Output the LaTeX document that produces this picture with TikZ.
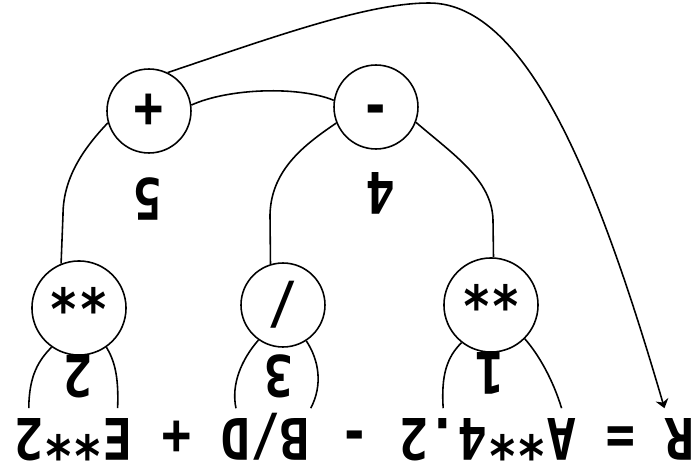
\documentclass[tikz,border=0pt]{standalone}
\usepackage{fontspec}
\usetikzlibrary{arrows.meta}
\newfontfamily\exprfont[FakeStretch=0.855]{DejaVu Sans Mono}
\newcommand{\codesize}{\exprfont\bfseries\fontsize{32.6pt}{36pt}\selectfont}

\begin{document}
\begin{tikzpicture}[x=0.02cm, y=0.02cm, rotate=180, transform shape,
		line width=0.9pt, >={Stealth[length=5pt,width=7.5pt]},
		op/.style={circle, draw, minimum size=1.68cm, inner sep=0pt, font=\codesize, text height=#1, text depth=0pt},
		tok/.style={font=\codesize, anchor=base, inner xsep=0pt, inner ysep=0.18cm},
		ordnum/.style={font=\codesize, anchor=base, inner sep=0pt}]
		\useasboundingbox (0,0) rectangle (699,473);
		
		% Statement
		\node[tok] (tR) at (19,418) {R};
		\node[tok] (tEq) at (78.2,418) {=};
		\node[tok] (tA) at (137.4,418) {A};
		\node[tok] (tPowA) at (181.8,418) {**};
		\node[tok] (tNum) at (255.8,418) {4.2};
		\node[tok] (tMinus) at (344.6,418) {-};
		\node[tok] (tB) at (403.8,418) {B};
		\node[tok] (tDiv) at (433.4,418) {/};
		\node[tok] (tD) at (463,418) {D};
		\node[tok] (tPlus) at (522.2,418) {+};
		\node[tok] (tE) at (581.4,418) {E};
		\node[tok] (tPowE) at (625.8,418) {**};
		\node[tok] (tTwo) at (670.2,418) {2};
		
		% Operators
		\node[op=1.47cm] (powA) at (208,305) {**};
		\node[op=0.73cm] (divop) at (416,305) {/};
		\node[op=1.47cm] (powE) at (620,308) {**};
		\node[op=0.58cm] (minusop) at (323,107) {-};
		\node[op=0.78cm] (plusop) at (550,111) {+};
		
		% Order of evaluation
		\node[ordnum] (o1) at (209,352) {1};
		\node[ordnum] (o2) at (621,355) {2};
		\node[ordnum] (o3) at (420,355) {3};
		\node[ordnum] (o4) at (318,172) {4};
		\node[ordnum] (o5) at (551,178) {5};
		
		% Operands
		\draw (powA.52) .. controls (252,357) and (258,375) .. (tNum.south);
		\draw (powA.135) .. controls (160,355) and (146,380) .. (tA.south);
		\draw (divop.55) .. controls (458,360) and (468,385) .. (tD.south);
		\draw (divop.123) .. controls (380,360) and (376,385) .. (tB.south west);
		\draw (powE.55) .. controls (660,360) and (670,375) .. (tTwo.south);
		\draw (powE.125) .. controls (585,360) and (580,375) .. (tE.south);
		
		% Tree
		\draw (minusop.159) .. controls (245,155) and (207,180) .. (206,220) -- (powA.267);
		\draw (minusop.22) .. controls (395,145) and (428,170) .. (429,215) -- (divop.287);
		\draw (plusop.188) .. controls (470,88) and (400,86) .. (minusop.351);
		\draw (plusop.16) .. controls (612,145) and (636,175) .. (636,215) -- (powE.292);
		
		% Result
		\draw[->] (plusop.244) .. controls (420,35) and (330,3) .. (270,3) .. controls (170,3) and (99,188) .. (tR.south east);
	\end{tikzpicture}
\end{document}
